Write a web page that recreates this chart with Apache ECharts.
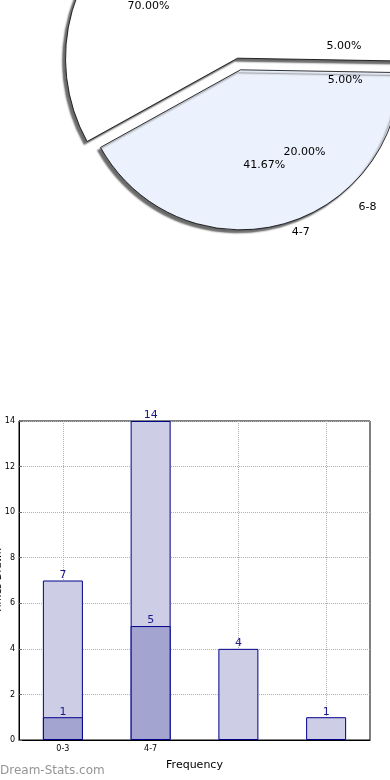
<!DOCTYPE html>
<html><head><meta charset="utf-8">
<script src="https://cdn.jsdelivr.net/npm/echarts@6/dist/echarts.min.js"></script>
<style>html,body{margin:0;padding:0;background:#fff}#c{width:390px;height:780px}</style>
</head><body><div id="c"></div>
<script>
// Pie (front layer, drawn slices)
const pieBNames = ['0-3', '4-7'];
const pieBValues = [7, 5];
// Pie (second layer, labels only)
const pieANames = ['4-7', '0-3', '9-11', '6-8'];
const pieAValues = [14, 1, 1, 4];
// Bars
const barCategories = ['0-3', '4-7', '', ''];
const barTotals = [7, 14, 4, 1];
const barHits = [1, 5, null, null];
const yTickMax = 14;
const yTickStep = 2;

const FONT = 'DejaVu Sans';
const pieBColors = ['#ffffff', '#ebf1fd'];
const pieBRadius = [172, 160];
const pctFmt = p => p.percent.toFixed(2) + '%';
const clear = 'rgba(0,0,0,0)';
const transparentItem = { color: clear, borderWidth: 0 };
const pieCenter = [239, 64];
const pieACenter = [238, 67];
const START_B = 209;
const noHide = { hideOverlap: false, moveOverlap: null };

function sliceLayer(idx) {
  return {
    type: 'pie', center: pieCenter, radius: [0, pieBRadius[idx]], startAngle: START_B, clockwise: true,
    selectedMode: 'multiple', selectedOffset: 6, silent: true, avoidLabelOverlap: false,
    label: { show: false }, labelLine: { show: false },
    data: pieBNames.map((n, i) => ({
      name: n, value: pieBValues[i], selected: true,
      itemStyle: i === idx
        ? { color: pieBColors[i], borderColor: '#000', borderWidth: 0.8, shadowColor: 'rgba(90,90,90,0.9)', shadowBlur: 1.5, shadowOffsetX: -3, shadowOffsetY: 3 }
        : { color: clear, borderWidth: 0 }
    })),
    z: 2
  };
}

function labelLayer(names, values, opts) {
  return Object.assign({
    type: 'pie', center: pieCenter, clockwise: true, silent: true,
    avoidLabelOverlap: false, minShowLabelAngle: 0, labelLayout: noHide,
    itemStyle: transparentItem,
    emphasis: { disabled: true },
    data: names.map((n, i) => ({ name: n, value: values[i], selected: !!opts.selectedMode })),
    z: 10, zlevel: 1
  }, opts);
}

const chart = echarts.init(document.getElementById('c'), null, { renderer: 'canvas' });
chart.setOption({
  animation: false,
  title: {
    text: 'Dream-Stats.com', left: 0, bottom: 3, padding: 0,
    textStyle: { color: '#959595', fontSize: 12, fontWeight: 'normal', fontFamily: FONT }
  },
  grid: { left: 19, right: 20, top: 421, bottom: 40, show: true, borderColor: '#000', borderWidth: 1, outerBoundsMode: 'none', containLabel: false },
  xAxis: {
    type: 'category', data: barCategories,
    name: 'Frequency', nameLocation: 'middle', nameGap: 20,
    nameTextStyle: { fontFamily: FONT, fontSize: 11, color: '#000' },
    axisLine: { lineStyle: { color: '#000', width: 1 } },
    axisTick: { show: true, inside: true, alignWithLabel: true, length: 3, lineStyle: { color: '#666' } },
    axisLabel: { fontFamily: FONT, fontSize: 8, color: '#000', margin: 5 },
    splitLine: { show: true, alignWithLabel: true, lineStyle: { type: 'dotted', color: '#b0b0b0' } }
  },
  yAxis: {
    type: 'value', min: 0, max: yTickMax, interval: yTickStep,
    name: 'Times Drawn', nameLocation: 'middle', nameGap: 16, nameMoveOverlap: false,
    nameTextStyle: { fontFamily: FONT, fontSize: 10, color: '#000' },
    axisLine: { show: true, lineStyle: { color: '#000', width: 1 } },
    axisTick: { show: true, inside: true, length: 3, lineStyle: { color: '#666' } },
    axisLabel: { fontFamily: FONT, fontSize: 8, color: '#000', margin: 4 },
    splitLine: { show: true, lineStyle: { type: 'dotted', color: '#b0b0b0' } }
  },
  series: [
    {
      type: 'bar', data: barTotals, barWidth: 40,
      itemStyle: { color: '#cdcde5', borderColor: '#00008b', borderWidth: 1 },
      label: { show: true, position: 'top', distance: 0, color: '#1a1a8c', fontFamily: FONT, fontSize: 11 }
    },
    {
      type: 'bar', data: barHits, barWidth: 40, barGap: '-100%',
      itemStyle: { color: '#a4a4d0', borderColor: '#00008b', borderWidth: 1 },
      label: { show: true, position: 'top', distance: 0, color: '#1a1a8c', fontFamily: FONT, fontSize: 11 }
    },
    sliceLayer(0),
    sliceLayer(1),
    // front pie percentage labels
    labelLayer(pieBNames, pieBValues, {
      radius: [27, 164], startAngle: START_B, selectedMode: 'multiple', selectedOffset: 6,
      labelLine: { show: false },
      label: { show: true, position: 'inside', formatter: pctFmt, color: '#000', fontFamily: FONT, fontSize: 11 }
    }),
    // front pie category labels
    labelLayer(pieBNames, pieBValues, {
      radius: [0, 160], startAngle: START_B, selectedMode: 'multiple', selectedOffset: 6,
      labelLine: { show: false, length: 7, length2: 6 },
      label: { show: true, position: 'outside', formatter: '{b}', color: '#000', fontFamily: FONT, fontSize: 11 }
    }),
    // second pie percentage labels
    labelLayer(pieANames, pieAValues, {
      center: pieACenter, radius: [38, 172], startAngle: 272,
      labelLine: { show: false },
      label: { show: true, position: 'inside', formatter: pctFmt, color: '#000', fontFamily: FONT, fontSize: 11 }
    }),
    // second pie category labels
    labelLayer(pieANames, pieAValues, {
      center: pieACenter, radius: [0, 172], startAngle: 272,
      labelLine: { show: false, length: 6, length2: 6 },
      label: { show: true, position: 'outside', formatter: '{b}', color: '#000', fontFamily: FONT, fontSize: 11 }
    })
  ]
});
</script>
</body></html>
